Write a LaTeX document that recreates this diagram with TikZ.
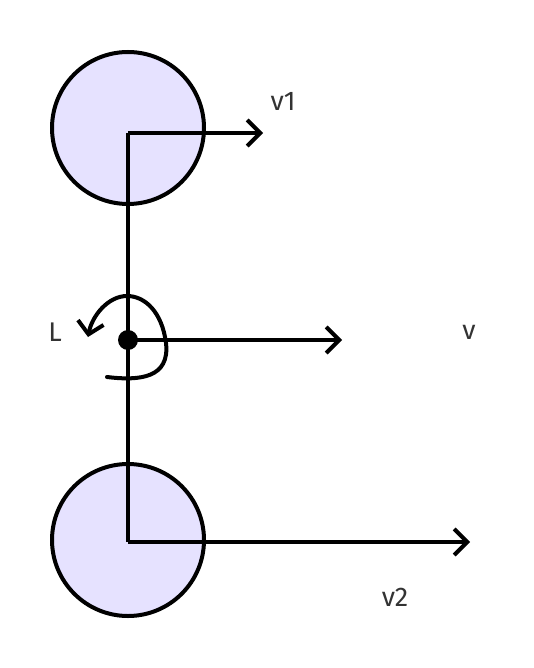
\documentclass[tikz,border=0pt]{standalone}
\usepackage{fontspec}
\setmainfont{Fira Sans}
\usepackage{tikz}
\usetikzlibrary{arrows.meta}
\definecolor{massfill}{RGB}{230,226,255}
\definecolor{labelgray}{RGB}{51,51,51}
\tikzset{
 mass/.style={circle,draw=black,fill=massfill,line width=4pt,minimum size=152pt,inner sep=0pt},
 vel/.style={line width=4pt,-{Straight Barb[length=13pt,width=26pt]}},
 lbl/.style={text=labelgray,font=\fontsize{27}{30}\selectfont,inner sep=0pt}
}
\begin{document}
\begin{tikzpicture}[x=1pt,y=-1pt]
 \useasboundingbox (0,0) rectangle (534,668);
 \node[mass] (m1) at (128,128) {};
 \node[mass] (m2) at (128,540) {};
 \coordinate (top) at (128,133);
 \coordinate (bot) at (128,542);
 \node[circle,fill=black,minimum size=20pt,inner sep=0pt] (cm) at (128,340) {};
 \draw[line width=4pt] (top) -- (bot);
 \coordinate (v1end) at (263,133);
 \coordinate (vend) at (342,340);
 \coordinate (v2end) at (470,542);
 \draw[vel] (top) -- (v1end);
 \draw[vel] (cm.center) -- (vend);
 \draw[vel] (bot) -- (v2end);
 % spin
 \draw[line width=4pt,line cap=round,-{Straight Barb[length=12pt,width=26pt]}]
  (107,377) .. controls (140,381) and (170,378) .. (166,343)
  .. controls (162,312) and (145,296) .. (127,296)
  .. controls (108,296) and (92,316) .. (88,337);
 \node[lbl] (lv1) at (283,101) {v1};
 \node[lbl] (lv) at (469,332) {v};
 \node[lbl] (lv2) at (395,597) {v2};
 \node[lbl] (lL) at (55,332) {L};
\end{tikzpicture}
\end{document}
